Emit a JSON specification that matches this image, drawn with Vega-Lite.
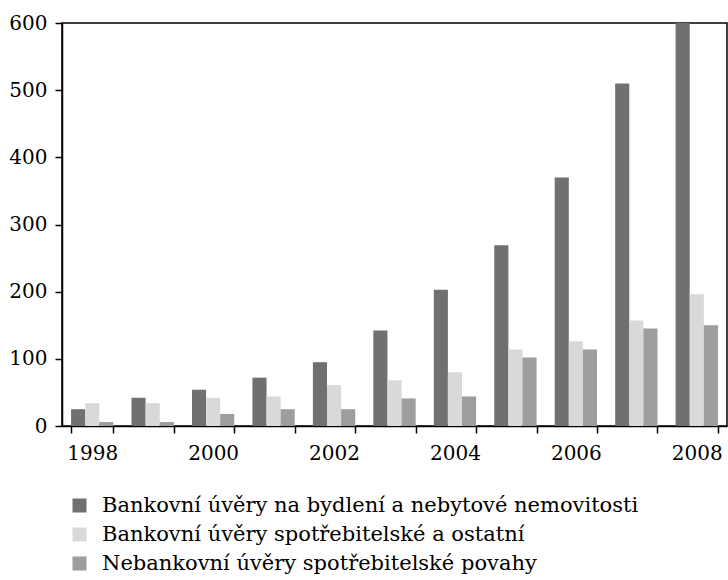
{
  "$schema": "https://vega.github.io/schema/vega-lite/v6.json",
  "autosize": "none",
  "width": 665,
  "height": 403,
  "padding": {"left": 62, "top": 23, "right": 1, "bottom": 154},
  "background": "white",
  "config": {
    "view": {"stroke": "black", "strokeWidth": 1.5},
    "font": "DejaVu Serif"
  },
  "data": {
    "values": [
      {"year": 1998, "series": "Bankovní úvěry na bydlení a nebytové nemovitosti", "value": 25},
      {"year": 1998, "series": "Bankovní úvěry spotřebitelské a ostatní", "value": 34},
      {"year": 1998, "series": "Nebankovní úvěry spotřebitelské povahy", "value": 6},
      {"year": 1999, "series": "Bankovní úvěry na bydlení a nebytové nemovitosti", "value": 42},
      {"year": 1999, "series": "Bankovní úvěry spotřebitelské a ostatní", "value": 34},
      {"year": 1999, "series": "Nebankovní úvěry spotřebitelské povahy", "value": 6},
      {"year": 2000, "series": "Bankovní úvěry na bydlení a nebytové nemovitosti", "value": 54},
      {"year": 2000, "series": "Bankovní úvěry spotřebitelské a ostatní", "value": 42},
      {"year": 2000, "series": "Nebankovní úvěry spotřebitelské povahy", "value": 18},
      {"year": 2001, "series": "Bankovní úvěry na bydlení a nebytové nemovitosti", "value": 72},
      {"year": 2001, "series": "Bankovní úvěry spotřebitelské a ostatní", "value": 44},
      {"year": 2001, "series": "Nebankovní úvěry spotřebitelské povahy", "value": 25},
      {"year": 2002, "series": "Bankovní úvěry na bydlení a nebytové nemovitosti", "value": 95},
      {"year": 2002, "series": "Bankovní úvěry spotřebitelské a ostatní", "value": 61},
      {"year": 2002, "series": "Nebankovní úvěry spotřebitelské povahy", "value": 25},
      {"year": 2003, "series": "Bankovní úvěry na bydlení a nebytové nemovitosti", "value": 142},
      {"year": 2003, "series": "Bankovní úvěry spotřebitelské a ostatní", "value": 68},
      {"year": 2003, "series": "Nebankovní úvěry spotřebitelské povahy", "value": 41},
      {"year": 2004, "series": "Bankovní úvěry na bydlení a nebytové nemovitosti", "value": 203},
      {"year": 2004, "series": "Bankovní úvěry spotřebitelské a ostatní", "value": 80},
      {"year": 2004, "series": "Nebankovní úvěry spotřebitelské povahy", "value": 44},
      {"year": 2005, "series": "Bankovní úvěry na bydlení a nebytové nemovitosti", "value": 269},
      {"year": 2005, "series": "Bankovní úvěry spotřebitelské a ostatní", "value": 114},
      {"year": 2005, "series": "Nebankovní úvěry spotřebitelské povahy", "value": 102},
      {"year": 2006, "series": "Bankovní úvěry na bydlení a nebytové nemovitosti", "value": 370},
      {"year": 2006, "series": "Bankovní úvěry spotřebitelské a ostatní", "value": 126},
      {"year": 2006, "series": "Nebankovní úvěry spotřebitelské povahy", "value": 114},
      {"year": 2007, "series": "Bankovní úvěry na bydlení a nebytové nemovitosti", "value": 510},
      {"year": 2007, "series": "Bankovní úvěry spotřebitelské a ostatní", "value": 157},
      {"year": 2007, "series": "Nebankovní úvěry spotřebitelské povahy", "value": 145},
      {"year": 2008, "series": "Bankovní úvěry na bydlení a nebytové nemovitosti", "value": 600},
      {"year": 2008, "series": "Bankovní úvěry spotřebitelské a ostatní", "value": 196},
      {"year": 2008, "series": "Nebankovní úvěry spotřebitelské povahy", "value": 150}
    ]
  },
  "mark": {"type": "bar"},
  "encoding": {
    "x": {
      "field": "year",
      "type": "ordinal",
      "scale": {"paddingInner": 0.3, "paddingOuter": 0.15},
      "axis": {
        "title": null,
        "labelAngle": 0,
        "tickBand": "extent",
        "labelExpr": "datum.value % 2 == 0 ? datum.label : ''",
        "labelFont": "DejaVu Serif",
        "labelFontSize": 20,
        "labelColor": "black",
        "labelPadding": 10,
        "tickColor": "black",
        "tickWidth": 1.5,
        "tickSize": 7,
        "domainColor": "black",
        "domainWidth": 1.5
      }
    },
    "xOffset": {
      "field": "series",
      "type": "nominal",
      "sort": [
        "Bankovní úvěry na bydlení a nebytové nemovitosti",
        "Bankovní úvěry spotřebitelské a ostatní",
        "Nebankovní úvěry spotřebitelské povahy"
      ]
    },
    "y": {
      "field": "value",
      "type": "quantitative",
      "scale": {"domain": [0, 600], "nice": false},
      "axis": {
        "title": null,
        "grid": false,
        "values": [0, 100, 200, 300, 400, 500, 600],
        "labelFont": "DejaVu Serif",
        "labelFontSize": 20,
        "labelColor": "black",
        "labelPadding": 8,
        "tickColor": "black",
        "tickWidth": 1.5,
        "tickSize": 7,
        "domainColor": "black",
        "domainWidth": 1.5
      }
    },
    "color": {
      "field": "series",
      "type": "nominal",
      "sort": [
        "Bankovní úvěry na bydlení a nebytové nemovitosti",
        "Bankovní úvěry spotřebitelské a ostatní",
        "Nebankovní úvěry spotřebitelské povahy"
      ],
      "scale": {"range": ["#6f7072", "#d8d9db", "#9c9d9f"]},
      "legend": {
        "title": null,
        "orient": "none",
        "direction": "vertical",
        "legendX": 7,
        "legendY": 472,
        "symbolType": "square",
        "symbolSize": 196,
        "symbolStrokeWidth": 0,
        "symbolOpacity": 1,
        "labelFont": "DejaVu Serif",
        "labelFontSize": 21,
        "labelColor": "black",
        "labelOffset": 12,
        "labelLimit": 700,
        "rowPadding": 7
      }
    }
  }
}
